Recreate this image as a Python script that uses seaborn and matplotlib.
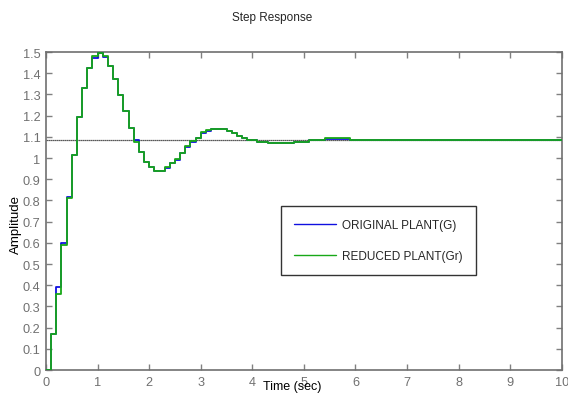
import numpy as np
import pandas as pd
import matplotlib
matplotlib.use("Agg")
import matplotlib.pyplot as plt
import seaborn as sns

# ---- data ----
time_step = 0.1
original_G = [0.0, 0.17, 0.39, 0.60, 0.817, 1.016, 1.195, 1.33, 1.423, 1.472,
              1.495, 1.475, 1.432, 1.373, 1.297, 1.22, 1.143, 1.085, 1.027, 0.983,
              0.96, 0.94, 0.94, 0.955, 0.975, 0.99, 1.022, 1.052, 1.078, 1.094,
              1.118, 1.127, 1.135, 1.137, 1.137, 1.128, 1.117, 1.106, 1.096, 1.087,
              1.085, 1.077, 1.077, 1.069, 1.069, 1.069, 1.069, 1.069, 1.077, 1.077,
              1.077, 1.085, 1.085, 1.085, 1.092, 1.092, 1.092, 1.092, 1.089, 1.085,
              1.085] + [1.085] * 40
reduced_Gr = [0.0, 0.17, 0.36, 0.59, 0.81, 1.016, 1.195, 1.33, 1.423, 1.48,
              1.497, 1.48, 1.432, 1.373, 1.297, 1.22, 1.143, 1.078, 1.027, 0.983,
              0.96, 0.94, 0.94, 0.96, 0.975, 0.995, 1.024, 1.055, 1.079, 1.094,
              1.121, 1.13, 1.137, 1.137, 1.137, 1.126, 1.116, 1.105, 1.096, 1.086,
              1.085, 1.077, 1.077, 1.069, 1.069, 1.069, 1.069, 1.069, 1.077, 1.077,
              1.077, 1.085, 1.085, 1.085, 1.093, 1.093, 1.093, 1.093, 1.093, 1.085,
              1.085] + [1.085] * 40
steady_state = 1.085
series_names = ["ORIGINAL PLANT(G)", "REDUCED PLANT(Gr)"]
x_ticks = list(range(0, 11))
y_ticks = [round(0.1 * i, 1) for i in range(16)]
y_tick_labels = ["0", "0.1", "0.2", "0.3", "0.4", "0.5", "0.6", "0.7", "0.8", "0.9",
                 "1", "1.1", "1.2", "1.3", "1.4", "1.5"]

t = np.arange(len(original_G)) * time_step
df = pd.DataFrame({
    "t": np.concatenate([t, t]),
    "y": np.concatenate([original_G, reduced_Gr]),
    "series": [series_names[0]] * len(t) + [series_names[1]] * len(t),
})

sns.set_theme(style="white")
plt.rcParams["font.family"] = ["Liberation Sans Narrow", "Liberation Sans", "DejaVu Sans"]

fig = plt.figure(figsize=(5.68, 4.02), dpi=100)
ax = fig.add_axes([0.081, 0.077, 0.908, 0.791])

ax.axhline(steady_state, color="#222222", lw=0.9, ls=(0, (1, 0.6)), zorder=1)
sns.lineplot(data=df, x="t", y="y", hue="series", palette=["#1010e0", "#18a818"],
             drawstyle="steps-post", lw=1.3, ax=ax, legend=True, zorder=3)

ax.set_xlim(0, 10)
ax.set_ylim(0, 1.5)
ax.set_xticks(x_ticks)
ax.set_yticks(y_ticks)
ax.set_yticklabels(y_tick_labels)
ax.tick_params(direction="in", length=4, width=1, color="#808080",
               labelcolor="#707070", labelsize=9.2, top=True, right=True,
               bottom=True, left=True, pad=4)
for s in ax.spines.values():
    s.set_color("#707070")
    s.set_linewidth(1.2)

ax.set_xlabel("Time (sec)", fontsize=9, color="black", labelpad=0)
ax.xaxis.set_label_coords(0.478, -0.032)
ax.set_ylabel("Amplitude", fontsize=9.5, color="black",
              family=["Liberation Sans", "DejaVu Sans"])
ax.yaxis.set_label_coords(-0.047, 0.46)
ax.set_title("Step Response", fontsize=8.5, x=0.438, pad=23)

leg = ax.legend(loc="upper left", bbox_to_anchor=(0.455, 0.516), frameon=True,
                fancybox=False, edgecolor="black", fontsize=8.5,
                handlelength=3.6, borderpad=1.1, labelspacing=1.65,
                handletextpad=0.5, borderaxespad=0)
leg.get_frame().set_linewidth(1.0)
for line in leg.get_lines():
    line.set_linewidth(1.0)

fig.savefig("out.png", dpi=100)
